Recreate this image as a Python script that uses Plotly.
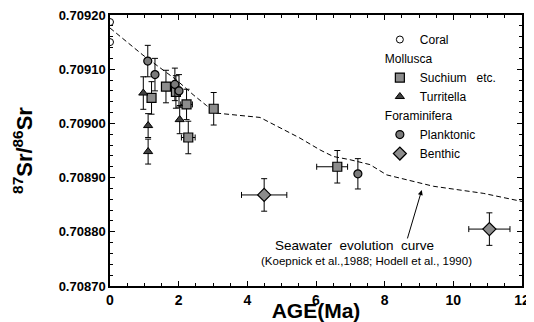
import plotly.graph_objects as go

# ---- data ----
coral_age = [0.0, 0.0]
coral_sr = [0.709187, 0.709150]

suchium_age = [1.21, 1.63, 1.92, 2.23, 2.28, 3.02, 6.62]
suchium_sr = [0.709047, 0.709068, 0.709058, 0.709035, 0.708974, 0.709027, 0.708920]
suchium_err = [0.000030, 0.000030, 0.000030, 0.000028, 0.000030, 0.000030, 0.000030]
suchium_xerr_plus = [0, 0, 0, 0.17, 0.2, 0, 0.3]
suchium_xerr_minus = [0, 0, 0, 0.17, 0.2, 0, 0.6]

turr_age = [0.97, 1.11, 1.11, 2.03]
turr_sr = [0.709056, 0.708996, 0.708948, 0.709007]
turr_err = [0.000030, 0.000022, 0.000023, 0.000026]

plank_age = [1.10, 1.31, 1.89, 2.01, 7.22]
plank_sr = [0.709115, 0.709090, 0.709072, 0.709060, 0.708907]
plank_err = [0.000029, 0.000030, 0.000030, 0.000030, 0.000028]

benth_age = [4.49, 11.05]
benth_sr = [0.708868, 0.708805]
benth_err = [0.000030, 0.000030]
benth_xerr = [0.66, 0.6]

curve_age = [0.0, 0.96, 1.94, 2.42, 2.81, 3.10, 4.37, 4.95, 5.53, 6.12, 6.50, 6.99, 7.57, 8.06, 9.42, 10.87, 12.0]
curve_sr = [0.709176, 0.709126, 0.709080, 0.709053, 0.709033, 0.709019, 0.709011, 0.708992,
            0.708973, 0.708951, 0.708939, 0.708933, 0.708924, 0.708905, 0.708884, 0.708871, 0.708856]

y_ticks = [0.7087, 0.7088, 0.7089, 0.7090, 0.7091, 0.7092]
y_ticklabels = ["0.70870", "0.70880", "0.70890", "0.70900", "0.70910", "0.70920"]
x_ticks = [0, 2, 4, 6, 8, 10, 12]
x_ticklabels = ["0", "2", "4", "6", "8", "10", "12"]

FONT = "Liberation Sans, Arial, Helvetica, sans-serif"
ERR = dict(color="black", thickness=1, width=3)

fig = go.Figure()

fig.add_trace(go.Scatter(
    x=curve_age, y=curve_sr, mode="lines", showlegend=False, hoverinfo="skip",
    line=dict(color="black", width=1, dash="5px,3px")))

fig.add_trace(go.Scatter(
    x=coral_age, y=coral_sr, mode="markers", name="Coral",
    marker=dict(symbol="circle-open", size=7, color="black", line=dict(width=1))))

fig.add_trace(go.Scatter(
    x=suchium_age, y=suchium_sr, mode="markers", name="Suchium   etc.",
    legendgroup="moll", legendgrouptitle=dict(text="Mollusca", font=dict(size=12, family=FONT)),
    error_y=dict(type="data", array=suchium_err, **ERR),
    error_x=dict(type="data", array=suchium_xerr_plus, arrayminus=suchium_xerr_minus, **ERR),
    marker=dict(symbol="square", size=9, color="#8c8c8c", line=dict(color="black", width=1.2))))

fig.add_trace(go.Scatter(
    x=turr_age, y=turr_sr, mode="markers", name="Turritella",
    legendgroup="moll",
    error_y=dict(type="data", array=turr_err, **ERR),
    marker=dict(symbol="triangle-up", size=8, color="#404040", line=dict(color="black", width=1))))

fig.add_trace(go.Scatter(
    x=plank_age, y=plank_sr, mode="markers", name="Planktonic",
    legendgroup="foram", legendgrouptitle=dict(text="Foraminifera", font=dict(size=12, family=FONT)),
    error_y=dict(type="data", array=plank_err, **ERR),
    marker=dict(symbol="circle", size=8, color="#7a7a7a", line=dict(color="black", width=1.2))))

fig.add_trace(go.Scatter(
    x=benth_age, y=benth_sr, mode="markers", name="Benthic",
    legendgroup="foram",
    error_y=dict(type="data", array=benth_err, **ERR),
    error_x=dict(type="data", array=benth_xerr, **ERR),
    marker=dict(symbol="diamond", size=10, color="#8c8c8c", line=dict(color="black", width=1.2))))

fig.add_annotation(x=7.13, y=0.708775, xref="x", yref="y", text="Seawater  evolution  curve",
                   showarrow=False, font=dict(size=13.5, family=FONT, color="black"))
fig.add_annotation(x=7.48, y=0.708747, xref="x", yref="y",
                   text="(Koepnick et al.,1988; Hodell et al., 1990)",
                   showarrow=False, font=dict(size=11.5, family=FONT, color="black"))
fig.add_annotation(x=9.08, y=0.708877, ax=8.65, ay=0.708785, xref="x", yref="y",
                   axref="x", ayref="y", text="", showarrow=True, arrowhead=2,
                   arrowsize=1, arrowwidth=1, arrowcolor="black")

fig.update_xaxes(
    range=[0, 12], tickvals=x_ticks, ticktext=x_ticklabels, ticklabeloverflow="allow",
    showline=True, linecolor="black", linewidth=1.5, mirror="ticks",
    ticks="inside", ticklen=5, tickcolor="black",
    minor=dict(dtick=0.5, ticks="inside", ticklen=3, tickcolor="black"),
    showgrid=False, zeroline=False, automargin=True,
    tickfont=dict(size=14, family=FONT, color="black", weight="bold"),
    title=dict(text="AGE(Ma)", font=dict(size=21, family=FONT, color="black", weight="bold"),
               standoff=2))

fig.update_yaxes(
    range=[0.7087, 0.7092], tickvals=y_ticks, ticktext=y_ticklabels, ticklabeloverflow="allow",
    showline=True, linecolor="black", linewidth=1.5, mirror="ticks",
    ticks="inside", ticklen=5, tickcolor="black",
    minor=dict(dtick=0.00002, ticks="inside", ticklen=3, tickcolor="black"),
    showgrid=False, zeroline=False,
    tickfont=dict(size=13, family=FONT, color="black", weight="bold"),
    title=dict(text="<sup>87</sup>Sr/<sup>86</sup>Sr",
               font=dict(size=22, family=FONT, color="black", weight="bold"), standoff=20))

# the page body has an 8px margin, so the figure is drawn 8px smaller and offset
fig.update_layout(
    width=526, height=314,
    margin=dict(l=102, r=12, t=7, b=36, autoexpand=False),
    paper_bgcolor="white", plot_bgcolor="white",
    font=dict(family=FONT, color="black"),
    legend=dict(x=0.655, y=0.963, xanchor="left", yanchor="top", bgcolor="rgba(0,0,0,0)",
                font=dict(size=12, family=FONT, color="black"), tracegroupgap=0,
                itemwidth=30, borderwidth=0),
)

fig.write_html("out.html")
